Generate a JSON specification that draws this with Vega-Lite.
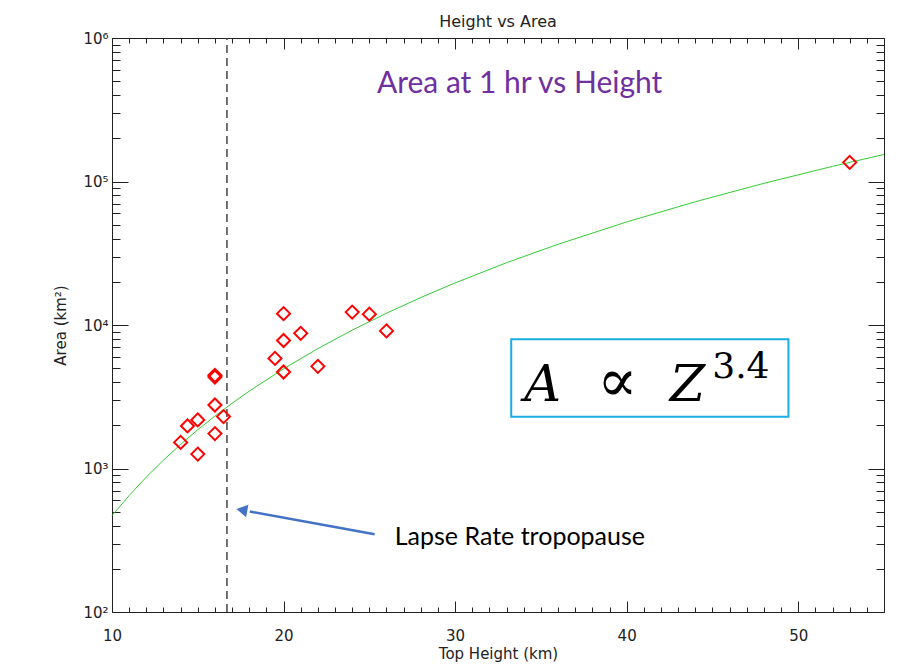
{
  "$schema": "https://vega.github.io/schema/vega-lite/v6.json",
  "width": 772,
  "height": 574,
  "autosize": {"type": "none"},
  "padding": {"left": 112, "top": 38, "right": 15, "bottom": 55},
  "background": "white",
  "title": {"text": "Height vs Area", "fontSize": 16, "font": "DejaVu Sans", "fontWeight": "normal", "color": "#222", "offset": 1, "anchor": "middle"},
  "config": {"view": {"stroke": null}},
  "datasets": {
    "points": [
      {"height": 20, "area": 12000}, {"height": 24, "area": 12300}, {"height": 25, "area": 11900},
      {"height": 26, "area": 9100}, {"height": 21, "area": 8750}, {"height": 20, "area": 7800},
      {"height": 19.5, "area": 5850}, {"height": 20, "area": 4700}, {"height": 22, "area": 5150},
      {"height": 16, "area": 4460}, {"height": 16, "area": 4340}, {"height": 16, "area": 2770},
      {"height": 16.5, "area": 2300}, {"height": 15, "area": 2180}, {"height": 14.4, "area": 1980},
      {"height": 16, "area": 1750}, {"height": 14, "area": 1520}, {"height": 15, "area": 1260},
      {"height": 53, "area": 136000}
    ],
    "curve": [
      {"height": 10, "area": 469}, {"height": 11, "area": 648}, {"height": 12, "area": 872},
      {"height": 13, "area": 1144}, {"height": 14, "area": 1472}, {"height": 15, "area": 1862},
      {"height": 16, "area": 2319}, {"height": 17, "area": 2849}, {"height": 18, "area": 3460},
      {"height": 20, "area": 4951}, {"height": 22, "area": 6845}, {"height": 24, "area": 9204},
      {"height": 26, "area": 12082}, {"height": 28, "area": 15540}, {"height": 30, "area": 19652},
      {"height": 33, "area": 27177}, {"height": 36, "area": 36516}, {"height": 40, "area": 52254},
      {"height": 44, "area": 72245}, {"height": 48, "area": 97141}, {"height": 52, "area": 127514},
      {"height": 55, "area": 154300}
    ],
    "tropo": [{"height": 16.7, "area": 100}, {"height": 16.7, "area": 1000000}],
    "arrow": [{"height": 25.31, "area": 348}, {"height": 18.03, "area": 501}],
    "arrowhead": [{"height": 17.57, "area": 514}],
    "box": [{"x1": 33.27, "x2": 49.43, "y1": 2297, "y2": 7950}]
  },
  "resolve": {"axis": {"x": "independent", "y": "independent"}},
  "layer": [
    {
      "data": {"name": "tropo"},
      "mark": {"type": "line", "color": "#444", "strokeDash": [8, 5], "strokeWidth": 1.5},
      "encoding": {
        "x": {"field": "height", "type": "quantitative", "scale": {"domain": [10, 55], "nice": false, "zero": false},
          "axis": {"orient": "bottom", "title": "Top Height (km)", "values": [10,11,12,13,14,15,16,17,18,19,20,21,22,23,24,25,26,27,28,29,30,31,32,33,34,35,36,37,38,39,40,41,42,43,44,45,46,47,48,49,50,51,52,53,54,55],
            "labelExpr": "datum.value % 10 === 0 ? datum.label : ''",
            "tickSize": {"condition": {"test": "datum.value % 10 === 0", "value": -11}, "value": -5},
            "grid": false, "domainColor": "#222", "tickColor": "#222", "labelColor": "#222", "titleColor": "#222",
            "labelFont": "DejaVu Sans", "labelFontSize": 15, "titleFont": "DejaVu Sans", "titleFontSize": 15, "titleFontWeight": "normal",
            "labelPadding": 27, "titlePadding": -3, "labelFlush": false, "labelOverlap": false}},
        "y": {"field": "area", "type": "quantitative", "scale": {"type": "log", "domain": [100, 1000000], "nice": false},
          "axis": {"orient": "left", "title": "Area (km²)",
            "values": [100,200,300,400,500,600,700,800,900,1000,2000,3000,4000,5000,6000,7000,8000,9000,10000,20000,30000,40000,50000,60000,70000,80000,90000,100000,200000,300000,400000,500000,600000,700000,800000,900000,1000000],
            "labelExpr": "datum.value === 100 ? '10²' : datum.value === 1000 ? '10³' : datum.value === 10000 ? '10⁴' : datum.value === 100000 ? '10⁵' : datum.value === 1000000 ? '10⁶' : ''",
            "tickSize": {"condition": {"test": "datum.value === 100 || datum.value === 1000 || datum.value === 10000 || datum.value === 100000 || datum.value === 1000000", "value": -16}, "value": -8},
            "grid": false, "domainColor": "#222", "tickColor": "#222", "labelColor": "#222", "titleColor": "#222",
            "labelFont": "DejaVu Sans", "labelFontSize": 15, "titleFont": "DejaVu Sans", "titleFontSize": 15, "titleFontWeight": "normal",
            "labelPadding": 20, "titlePadding": 14, "labelFlush": false, "labelOverlap": false}}
      }
    },
    {
      "data": {"name": "curve"},
      "mark": {"type": "line", "color": "#33cc33", "strokeWidth": 1},
      "encoding": {
        "x": {"field": "height", "type": "quantitative",
          "axis": {"orient": "top", "title": null, "labels": false, "values": [10,11,12,13,14,15,16,17,18,19,20,21,22,23,24,25,26,27,28,29,30,31,32,33,34,35,36,37,38,39,40,41,42,43,44,45,46,47,48,49,50,51,52,53,54,55],
            "tickSize": {"condition": {"test": "datum.value % 10 === 0", "value": -11}, "value": -5},
            "grid": false, "domainColor": "#222", "tickColor": "#222"}},
        "y": {"field": "area", "type": "quantitative",
          "axis": {"orient": "right", "title": null, "labels": false,
            "values": [100,200,300,400,500,600,700,800,900,1000,2000,3000,4000,5000,6000,7000,8000,9000,10000,20000,30000,40000,50000,60000,70000,80000,90000,100000,200000,300000,400000,500000,600000,700000,800000,900000,1000000],
            "tickSize": {"condition": {"test": "datum.value === 100 || datum.value === 1000 || datum.value === 10000 || datum.value === 100000 || datum.value === 1000000", "value": -16}, "value": -8},
            "grid": false, "domainColor": "#222", "tickColor": "#222"}}
      }
    },
    {
      "data": {"name": "points"},
      "mark": {"type": "point", "shape": "diamond", "filled": false, "color": "red", "strokeWidth": 2, "size": 170, "opacity": 1},
      "encoding": {
        "x": {"field": "height", "type": "quantitative", "axis": null},
        "y": {"field": "area", "type": "quantitative", "axis": null}
      }
    },
    {
      "data": {"name": "box"},
      "mark": {"type": "rect", "fill": null, "stroke": "#1AADE4", "strokeWidth": 2},
      "encoding": {
        "x": {"field": "x1", "type": "quantitative", "axis": null},
        "x2": {"field": "x2"},
        "y": {"field": "y1", "type": "quantitative", "axis": null},
        "y2": {"field": "y2"}
      }
    },
    {
      "data": {"values": [{"height": 35.1, "area": 2954, "label": "A"}, {"height": 43.54, "area": 2954, "label": "Z"}]},
      "mark": {"type": "text", "font": "DejaVu Serif", "fontStyle": "italic", "fontSize": 51, "align": "center", "baseline": "alphabetic", "color": "black"},
      "encoding": {
        "x": {"field": "height", "type": "quantitative", "axis": null},
        "y": {"field": "area", "type": "quantitative", "axis": null},
        "text": {"field": "label"}
      }
    },
    {
      "data": {"values": [{"height": 39.46, "area": 2954, "label": "∝"}]},
      "mark": {"type": "text", "font": "DejaVu Serif", "fontSize": 60, "align": "center", "baseline": "alphabetic", "color": "black"},
      "encoding": {
        "x": {"field": "height", "type": "quantitative", "axis": null},
        "y": {"field": "area", "type": "quantitative", "axis": null},
        "text": {"field": "label"}
      }
    },
    {
      "data": {"values": [{"height": 44.99, "area": 4274, "label": "3.4"}]},
      "mark": {"type": "text", "font": "DejaVu Serif", "fontSize": 36, "align": "left", "baseline": "alphabetic", "color": "black"},
      "encoding": {
        "x": {"field": "height", "type": "quantitative", "axis": null},
        "y": {"field": "area", "type": "quantitative", "axis": null},
        "text": {"field": "label"}
      }
    },
    {
      "data": {"values": [{"height": 33.76, "area": 414000, "label": "Area at 1 hr vs Height"}]},
      "mark": {"type": "text", "font": "Lato", "fontSize": 30, "align": "center", "baseline": "alphabetic", "color": "#7030A0"},
      "encoding": {
        "x": {"field": "height", "type": "quantitative", "axis": null},
        "y": {"field": "area", "type": "quantitative", "axis": null},
        "text": {"field": "label"}
      }
    },
    {
      "data": {"values": [{"height": 26.48, "area": 293, "label": "Lapse Rate tropopause"}]},
      "mark": {"type": "text", "font": "Lato", "fontSize": 25, "align": "left", "baseline": "alphabetic", "color": "black"},
      "encoding": {
        "x": {"field": "height", "type": "quantitative", "axis": null},
        "y": {"field": "area", "type": "quantitative", "axis": null},
        "text": {"field": "label"}
      }
    },
    {
      "data": {"name": "arrow"},
      "mark": {"type": "line", "color": "#4472C4", "strokeWidth": 2.5},
      "encoding": {
        "x": {"field": "height", "type": "quantitative", "axis": null},
        "y": {"field": "area", "type": "quantitative", "axis": null}
      }
    },
    {
      "data": {"name": "arrowhead"},
      "mark": {"type": "point", "shape": "triangle-up", "filled": true, "color": "#4472C4", "size": 160, "angle": 280, "opacity": 1},
      "encoding": {
        "x": {"field": "height", "type": "quantitative", "axis": null},
        "y": {"field": "area", "type": "quantitative", "axis": null}
      }
    }
  ]
}
